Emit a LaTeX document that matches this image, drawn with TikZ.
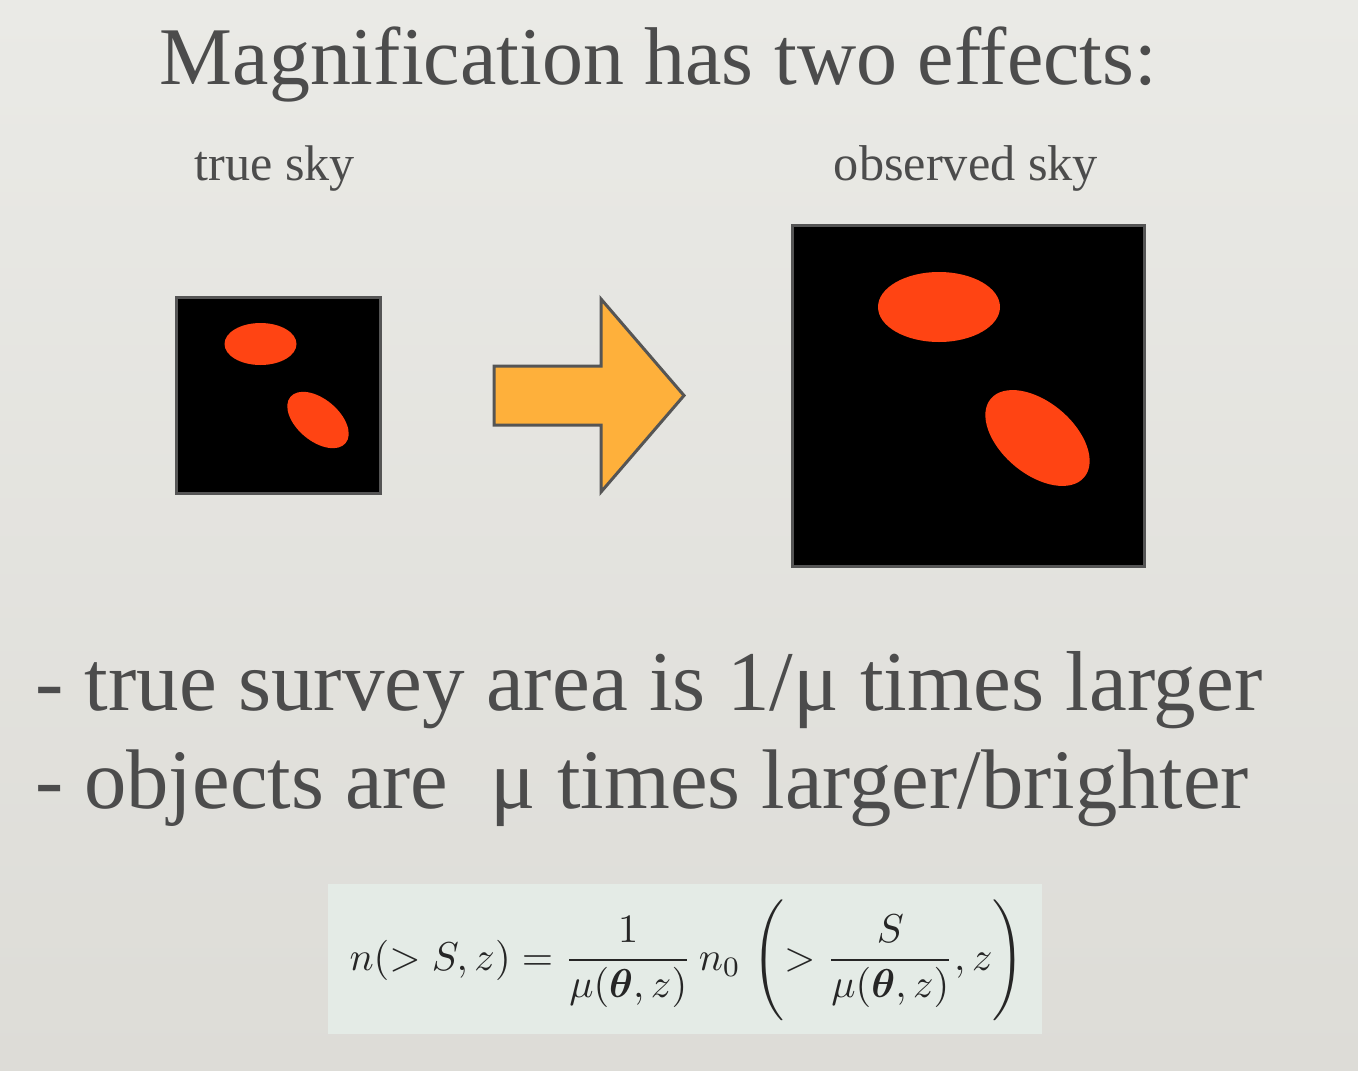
\documentclass[tikz,border=0pt]{standalone}
\usepackage{fontspec}
\usepackage{amsmath}
\usepackage{graphicx}
\setmainfont{Liberation Serif}
\definecolor{bgtop}{HTML}{EAEAE6}
\definecolor{bgbot}{HTML}{DDDCD7}
\definecolor{txt}{HTML}{4C4C4C}
\definecolor{blob}{HTML}{FF4413}
\definecolor{arrowfill}{HTML}{FEB03B}
\definecolor{edge}{HTML}{555555}
\definecolor{formbg}{HTML}{E4EBE6}
\tikzset{
  skybox/.style={draw=edge, line width=3pt, fill=black, inner sep=0pt, outer sep=0pt},
  slidetext/.style={text=txt, inner sep=0pt, outer sep=0pt},
  blobfill/.style={fill=blob},
}
\begin{document}
\begin{tikzpicture}[x=1pt,y=-1pt]
\useasboundingbox (0,0) rectangle (1358,1071);
\shade[top color=bgtop, bottom color=bgbot] (0,0) rectangle (1358,1071);

% title and labels
\node[slidetext, anchor=base] (title) at (658.5,84) {\resizebox{997pt}{!}{Magnification has two effects:}};
\node[slidetext, anchor=base] (truelbl) at (275,180) {\resizebox{160pt}{!}{true sky}};
\node[slidetext, anchor=base] (obslbl) at (966,180) {\resizebox{264pt}{!}{observed sky}};

% sky boxes
\node[skybox, minimum width=204pt, minimum height=196pt] (truebox) at (278,395) {};
\node[skybox, minimum width=352pt, minimum height=341pt] (obsbox) at (968,395.5) {};

% blobs
\fill[blobfill] (260.5,344) ellipse [x radius=36pt, y radius=21pt];
\fill[blobfill, shift={(318,420)}, rotate=-40] (0,0) ellipse [x radius=36pt, y radius=21pt];
\fill[blobfill] (939,307) ellipse [x radius=61pt, y radius=35pt];
\fill[blobfill, shift={(1037.5,438)}, rotate=-40] (0,0) ellipse [x radius=61pt, y radius=36pt];

% block arrow
\draw[draw=edge, line width=3pt, fill=arrowfill, line join=miter]
  (494,366) -- (601,366) -- (601,299) -- (684,395.5) -- (601,492) -- (601,425) -- (494,425) -- cycle;

% bullets
\node[slidetext, anchor=base west] (bullet1) at (35,710) {\resizebox{1227pt}{!}{- true survey area is 1/μ times larger}};
\node[slidetext, anchor=base west] (bullet2) at (35,808) {\resizebox{1213pt}{!}{- objects are \ μ times larger/brighter}};

% formula
\fill[formbg] (328,884) rectangle (1042,1034);
\node[inner sep=0pt, text=black!85] (formula) at (687,960)
  {\resizebox{675pt}{!}{$\displaystyle n(>S,z)=\frac{1}{\mu(\boldsymbol{\theta},z)}\,n_0\;\Biggl(>\frac{S}{\mu(\boldsymbol{\theta},z)},z\Biggr)$}};
\end{tikzpicture}
\end{document}
